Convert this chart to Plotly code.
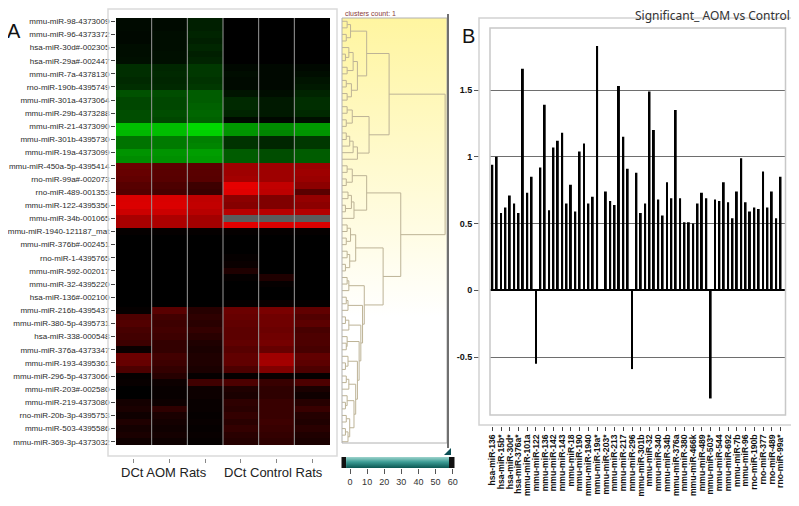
import numpy as np
import plotly.graph_objects as go

# target picture size, and the 8px body margin of the html page
W, H = 799, 506
OFF = 8
FW, FH = W - OFF, H - OFF

# ---------------------------------------------------------------------------
#  DATA
# ---------------------------------------------------------------------------
# panel A : heatmap (65 miRNAs x 6 rats), labels are shown on every second row
row_labels = [
    "mmu-miR-98-4373009", "mmu-miR-96-4373372", "hsa-miR-30d#-002305",
    "hsa-miR-29a#-002447", "mmu-miR-7a-4378130", "rno-miR-190b-4395749",
    "mmu-miR-301a-4373064", "mmu-miR-29b-4373288", "mmu-miR-21-4373090",
    "mmu-miR-301b-4395730", "mmu-miR-19a-4373099", "mmu-miR-450a-5p-4395414",
    "rno-miR-99a#-002073", "rno-miR-489-001353", "mmu-miR-122-4395356",
    "mmu-miR-34b-001065", "mmu-miR-1940-121187_mat", "mmu-miR-376b#-002451",
    "rno-miR-1-4395765", "mmu-miR-592-002017", "mmu-miR-32-4395220",
    "hsa-miR-136#-002100", "mmu-miR-216b-4395437", "mmu-miR-380-5p-4395731",
    "hsa-miR-338-000548", "mmu-miR-376a-4373347", "mmu-miR-193-4395361",
    "mmu-miR-296-5p-4373066", "mmu-miR-203#-002580", "mmu-miR-219-4373080",
    "rno-miR-20b-3p-4395753", "mmu-miR-503-4395586", "mmu-miR-369-3p-4373032",
]
group_labels = ["DCt AOM Rats", "DCt Control Rats"]

# negative = green, positive = red, None = missing value (grey)
expr = [
    [-0.04, -0.04, -0.12, 0.00, 0.00, 0.00],
    [-0.04, -0.04, -0.12, 0.00, 0.00, 0.00],
    [-0.03, -0.05, -0.14, 0.00, 0.00, 0.00],
    [-0.03, -0.05, -0.12, 0.00, 0.00, 0.00],
    [-0.05, -0.05, -0.15, 0.00, 0.00, 0.00],
    [-0.05, -0.06, -0.12, 0.00, 0.00, 0.00],
    [-0.06, -0.06, -0.14, 0.00, 0.00, 0.00],
    [-0.18, -0.15, -0.22, -0.03, -0.03, -0.03],
    [-0.18, -0.16, -0.22, -0.05, -0.03, -0.05],
    [-0.16, -0.15, -0.20, -0.04, -0.03, -0.08],
    [-0.18, -0.16, -0.22, -0.04, -0.03, -0.10],
    [-0.32, -0.30, -0.36, -0.08, -0.05, -0.14],
    [-0.28, -0.28, -0.36, -0.16, -0.10, -0.18],
    [-0.28, -0.28, -0.38, -0.16, -0.10, -0.18],
    [-0.30, -0.30, -0.40, -0.14, -0.10, -0.16],
    [-0.30, -0.28, -0.38, -0.04, -0.03, -0.06],
    [-0.75, -0.75, -0.85, -0.60, -0.55, -0.60],
    [-0.72, -0.74, -0.82, -0.58, -0.52, -0.58],
    [-0.45, -0.48, -0.50, -0.20, -0.15, -0.22],
    [-0.45, -0.48, -0.52, -0.20, -0.15, -0.22],
    [-0.58, -0.58, -0.62, -0.36, -0.30, -0.36],
    [-0.55, -0.56, -0.60, -0.36, -0.30, -0.36],
    [0.42, 0.36, 0.36, 0.62, 0.62, 0.60],
    [0.40, 0.35, 0.35, 0.62, 0.62, 0.62],
    [0.38, 0.34, 0.34, 0.64, 0.62, 0.60],
    [0.34, 0.30, 0.24, 0.90, 0.76, 0.55],
    [0.32, 0.28, 0.22, 0.88, 0.74, 0.35],
    [0.85, 0.85, 0.75, 0.55, 0.50, 0.58],
    [0.86, 0.86, 0.76, 0.52, 0.50, 0.55],
    [0.80, 0.80, 0.72, 0.72, 0.72, 0.70],
    [0.66, 0.68, 0.64, None, None, None],
    [0.66, 0.68, 0.64, 0.88, 0.86, 0.86],
    [0.02, 0.02, 0.02, 0.02, 0.02, 0.02],
    [0.00, 0.00, 0.00, 0.00, 0.00, 0.00],
    [0.00, 0.00, 0.00, 0.00, 0.00, 0.00],
    [0.00, 0.00, 0.00, 0.00, 0.00, 0.00],
    [0.00, 0.00, 0.00, 0.02, 0.00, 0.00],
    [0.00, 0.00, 0.00, 0.04, 0.00, 0.00],
    [0.00, 0.00, 0.00, 0.12, 0.00, 0.00],
    [0.00, 0.00, 0.00, 0.02, 0.12, 0.00],
    [0.00, 0.00, 0.00, 0.00, 0.02, 0.00],
    [0.00, 0.00, 0.00, 0.00, 0.00, 0.00],
    [0.00, 0.00, 0.00, 0.00, 0.00, 0.00],
    [0.00, 0.00, 0.00, 0.02, 0.04, 0.02],
    [0.02, 0.35, 0.15, 0.42, 0.48, 0.38],
    [0.30, 0.26, 0.18, 0.40, 0.44, 0.32],
    [0.32, 0.24, 0.16, 0.38, 0.44, 0.36],
    [0.28, 0.26, 0.20, 0.36, 0.42, 0.28],
    [0.26, 0.24, 0.16, 0.36, 0.44, 0.30],
    [0.24, 0.20, 0.12, 0.38, 0.46, 0.30],
    [0.04, 0.20, 0.10, 0.34, 0.40, 0.28],
    [0.42, 0.26, 0.12, 0.38, 0.62, 0.38],
    [0.40, 0.24, 0.12, 0.38, 0.64, 0.36],
    [0.30, 0.20, 0.10, 0.30, 0.50, 0.30],
    [0.02, 0.15, 0.02, 0.02, 0.03, 0.02],
    [0.03, 0.05, 0.25, 0.30, 0.22, 0.30],
    [0.00, 0.03, 0.05, 0.12, 0.18, 0.10],
    [0.00, 0.03, 0.05, 0.10, 0.18, 0.06],
    [0.08, 0.05, 0.03, 0.18, 0.22, 0.15],
    [0.10, 0.18, 0.03, 0.16, 0.22, 0.22],
    [0.06, 0.10, 0.02, 0.20, 0.22, 0.14],
    [0.12, 0.08, 0.03, 0.16, 0.24, 0.12],
    [0.08, 0.06, 0.02, 0.20, 0.22, 0.16],
    [0.10, 0.08, 0.03, 0.16, 0.20, 0.12],
    [0.06, 0.05, 0.02, 0.14, 0.18, 0.10],
]

# dendrogram : merge height between neighbouring leaves (cluster distance)
merge_h = [
    3.0, 5.0, 2.5, 14.4, 4.0, 2.0, 6.5, 3.0, 9.0, 2.5,
    5.5, 3.0, 27.5, 3.0, 6.0, 2.5, 15.8, 2.5, 4.5, 6.5,
    9.0, 60.2, 3.0, 6.0, 2.5, 14.4, 3.5, 5.5, 2.0, 7.0,
    34.3, 3.0, 5.0, 2.5, 8.0, 3.0, 4.5, 2.0, 24.0, 3.0,
    4.0, 13.0, 2.5, 3.5, 12.0, 2.0, 4.0, 11.0, 3.0, 2.5,
    10.0, 3.5, 2.0, 9.0, 2.5, 4.0, 8.0, 3.0, 2.0, 7.0,
    2.5, 4.5, 2.0, 3.5,
]
slider_ticks = [0, 10, 20, 30, 40, 50, 60]

# panel B : fold change, AOM vs control (label shown on every second bar)
bar_labels = [
    "hsa-miR-136", "hsa-miR-15b*", "hsa-miR-30d*", "hsa-miR-376a*",
    "mmu-miR-101a", "mmu-miR-122", "mmu-miR-136", "mmu-miR-142",
    "mmu-miR-143", "mmu-miR-18", "mmu-miR-190", "mmu-miR-1940",
    "mmu-miR-19a*", "mmu-miR-203*", "mmu-miR-213", "mmu-miR-217",
    "mmu-miR-296", "mmu-miR-301b", "mmu-miR-32", "mmu-miR-340",
    "mmu-miR-34b", "mmu-miR-376a", "mmu-miR-380", "mmu-miR-466k",
    "mmu-miR-489", "mmu-miR-503*", "mmu-miR-544", "mmu-miR-692",
    "mmu-miR-7b", "mmu-miR-96", "rno-miR-190b", "rno-miR-377",
    "rno-miR-489", "rno-miR-99a*",
]
bar_values = [
    0.94, 1.00, 0.58, 0.62, 0.71, 0.65, 0.58, 1.66, 0.73, 0.85,
    -0.55, 0.92, 1.39, 0.60, 1.07, 1.12, 1.18, 0.65, 0.79, 0.59,
    1.04, 1.10, 0.65, 0.70, 1.83, None, 0.74, 0.67, 0.64, 1.53,
    1.15, 0.91, -0.59, 0.88, 0.58, 0.65, 1.49, 1.20, 0.68, 0.56,
    0.81, 0.69, 1.35, 0.69, 0.51, 0.51, 0.50, 0.65, 0.73, 0.69,
    -0.81, 0.68, 0.67, 0.81, 0.66, 0.54, 0.74, 0.99, 0.66, 0.59,
    0.62, 0.61, 0.89, 0.62, 0.74, 0.54, 0.85,
]
b_ticks = [-0.5, 0, 0.5, 1, 1.5]


# ---------------------------------------------------------------------------
#  HELPERS
# ---------------------------------------------------------------------------
def px(x):
    return (x - OFF) / FW


def py(y):
    return 1 - (y - OFF) / FH


def dendro_segments(h):
    xs, ys = [], []

    def build(a, b):
        if a == b:
            return float(a), 0.0
        k = a + int(np.argmax(h[a:b]))
        yl, hl = build(a, k)
        yr, hr = build(k + 1, b)
        xs.extend([hl, h[k], h[k], hr, None])
        ys.extend([yl, yl, yr, yr, None])
        return (yl + yr) / 2, h[k]

    build(0, len(h))
    return xs, ys


z = np.array([[np.nan if v is None else v for v in r] for r in expr])
n_rows = z.shape[0]
missing = np.where(np.isnan(z), 1.0, np.nan)

fig = go.Figure()

# heatmap
fig.add_trace(go.Heatmap(
    z=z, zmin=-1, zmax=1, showscale=False,
    colorscale=[[0, "#00ff00"], [0.5, "#000000"], [1, "#ff0000"]],
    xaxis="x", yaxis="y", hoverinfo="skip"))
fig.add_trace(go.Heatmap(
    z=missing, zmin=0, zmax=1, showscale=False,
    colorscale=[[0, "#5c5c5c"], [1, "#5c5c5c"]],
    xaxis="x", yaxis="y", hoverinfo="skip"))

# dendrogram
top = 61.3
fig.add_trace(go.Scatter(
    x=[0, top, top, 0, 0], y=[-0.5, -0.5, n_rows - 0.5, n_rows - 0.5, -0.5],
    fill="toself", mode="lines", line=dict(width=0),
    fillgradient=dict(type="vertical", start=n_rows - 0.5, stop=-0.5,
                      colorscale=[[0, "#ffffff"], [0.3, "#ffffff"], [1, "#fff5a0"]]),
    xaxis="x2", yaxis="y2", hoverinfo="skip", showlegend=False))
dx, dy = dendro_segments(merge_h)
fig.add_trace(go.Scatter(
    x=dx, y=dy, mode="lines", line=dict(color="#bdb396", width=1),
    xaxis="x2", yaxis="y2", hoverinfo="skip", showlegend=False))

# slider under the dendrogram
fig.add_trace(go.Scatter(
    x=[-2.3, 58.0, 58.0, -2.3, -2.3], y=[0, 0, 1, 1, 0],
    fill="toself", mode="lines", line=dict(width=0),
    fillgradient=dict(type="vertical", start=0, stop=1,
                      colorscale=[[0, "#0b5652"], [0.55, "#3c9c95"], [1, "#9fd4cd"]]),
    xaxis="x3", yaxis="y3", hoverinfo="skip", showlegend=False))

# bars
idx = np.arange(len(bar_values))
fig.add_trace(go.Bar(
    x=idx, y=bar_values, width=0.45, marker=dict(color="#000000", line=dict(width=0)),
    xaxis="x4", yaxis="y4", hoverinfo="skip", showlegend=False))

noax = dict(visible=False, showgrid=False, zeroline=False, automargin=False)
fig.update_layout(
    template="none",
    width=FW, height=FH, margin=dict(l=0, r=0, t=0, b=0, autoexpand=False),
    paper_bgcolor="white", plot_bgcolor="rgba(0,0,0,0)", showlegend=False,
    font=dict(family="Liberation Sans, Arial, sans-serif", color="#222"),
    xaxis=dict(domain=[px(116), px(330)], range=[-0.5, 5.5], anchor="free",
               position=py(458), tickvals=list(range(6)), ticktext=[""] * 6,
               ticks="outside", ticklen=4, tickcolor="#888", showgrid=False,
               zeroline=False, showline=False, automargin=False),
    yaxis=dict(domain=[py(445), py(18)], range=[n_rows - 0.5, -0.5], anchor="x",
               tickvals=list(range(0, n_rows, 2)), ticktext=row_labels,
               ticks="outside", ticklen=4, tickcolor="#444", tickwidth=1,
               tickfont=dict(family="Liberation Sans, Arial", size=8, color="#2a2a2a"),
               showgrid=False, zeroline=False, showline=False, automargin=False),
    xaxis2=dict(domain=[px(342), px(447)], range=[0, top], anchor="y2", **noax),
    yaxis2=dict(domain=[py(445), py(18)], range=[n_rows - 0.5, -0.5], anchor="x2", **noax),
    xaxis3=dict(domain=[px(341), px(455)], range=[-5.26, 61.33], anchor="y3",
                tickvals=slider_ticks, ticks="outside", ticklen=5, tickcolor="#555",
                tickfont=dict(size=9, color="#333"), showgrid=False,
                zeroline=False, showline=False, automargin=False),
    yaxis3=dict(domain=[py(468), py(457)], range=[0, 1], anchor="x3", **noax),
    xaxis4=dict(domain=[px(490), px(785.5)], range=[-0.53, 67.14], anchor="free",
                position=py(426), tickvals=idx[::2], ticktext=bar_labels,
                tickangle=-90, ticks="outside", ticklen=4, tickcolor="#444",
                tickfont=dict(size=8.6, color="#111", weight="bold"),
                showgrid=False, zeroline=False, showline=False, automargin=False),
    yaxis4=dict(domain=[py(415), py(28)], range=[-0.934, 1.965], anchor="free",
                position=px(479), tickvals=b_ticks,
                ticktext=["-0.5", "0", "0.5", "1", "1.5"],
                ticks="outside", ticklen=5, tickcolor="#555",
                tickfont=dict(size=9, color="#111", weight="bold"),
                showgrid=True, gridcolor="#6e6e6e", gridwidth=1,
                zeroline=True, zerolinecolor="#000000", zerolinewidth=2,
                showline=False, automargin=False),
)

shapes = []
# column separators in the heatmap
for c in range(1, 6):
    shapes.append(dict(type="line", xref="x", yref="y", x0=c - 0.5, x1=c - 0.5,
                       y0=-0.5, y1=n_rows - 0.5, line=dict(color="#9a9a9a", width=1)))


# frames
def rect(x0, y0, x1, y1, color, w=1.5):
    return dict(type="rect", xref="paper", yref="paper", x0=px(x0), x1=px(x1),
                y0=py(y1), y1=py(y0), line=dict(color=color, width=w))


shapes += [
    rect(108, 9, 337, 456, "#dadada"),
    rect(342, 18, 447, 443, "#b0b0b0", 1),
    dict(type="line", xref="paper", yref="paper", x0=px(448), x1=px(448),
         y0=py(448), y1=py(14), line=dict(color="#707070", width=2)),
    rect(479, 18, 797, 425, "#d2d2d2"),
    rect(490, 28, 785.5, 415, "#c8c8c8"),
    dict(type="rect", xref="paper", yref="paper", x0=px(341.5), x1=px(346),
         y0=py(468), y1=py(457), fillcolor="#111", line=dict(width=0)),
    dict(type="rect", xref="paper", yref="paper", x0=px(449), x1=px(454.5),
         y0=py(468), y1=py(457), fillcolor="#111", line=dict(width=0)),
    dict(type="path", xref="paper", yref="paper",
         path=f"M {px(444)},{py(455)} L {px(451)},{py(455)} L {px(451)},{py(448)} Z",
         fillcolor="#0b4f55", line=dict(width=0)),
]
fig.update_layout(shapes=shapes)

ann = [
    dict(text="A", x=px(14), y=py(31), font=dict(size=20, color="#111")),
    dict(text="B", x=px(468), y=py(36), font=dict(size=20, color="#111")),
    dict(text=group_labels[0], x=px(164), y=py(472), font=dict(size=13, color="#222")),
    dict(text=group_labels[1], x=px(273.5), y=py(472), font=dict(size=13, color="#222")),
    dict(text="clusters count: 1", x=px(343), y=py(13), xanchor="left",
         font=dict(size=7, color="#8b3a3a")),
    dict(text="Significant_ AOM vs Control", x=px(792), y=py(15.5), xanchor="right",
         font=dict(family="Noto Sans, Open Sans, sans-serif", size=12, color="#333")),
]
for a in ann:
    a.setdefault("xanchor", "center")
    a.update(xref="paper", yref="paper", yanchor="middle", showarrow=False)
fig.update_layout(annotations=ann)

fig.write_html("out.html")
